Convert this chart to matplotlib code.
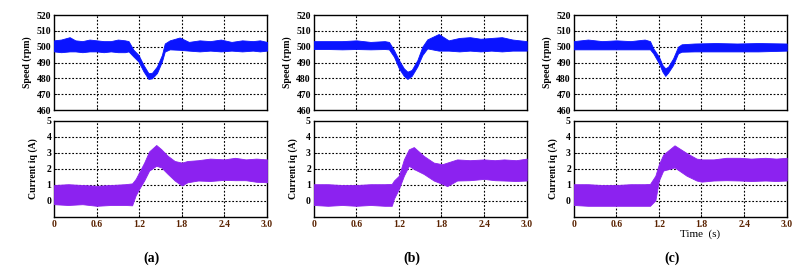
import matplotlib
matplotlib.use("Agg")
import matplotlib.pyplot as plt

# ---------------- data ----------------
panel_labels = ["(a)", "(b)", "(c)"]
x_ticks = [0, 0.6, 1.2, 1.8, 2.4, 3.0]
x_ticklabels = ["0", "0.6", "1.2", "1.8", "2.4", "3.0"]
speed_ticks = [460, 470, 480, 490, 500, 510, 520]
current_ticks = [0, 1, 2, 3, 4, 5]

# speed envelopes (rpm)
spd_t_a = [0, 0.1, 0.22, 0.3, 0.4, 0.5, 0.6, 0.7, 0.8, 0.9, 1.0, 1.05, 1.12, 1.19, 1.26, 1.33, 1.38, 1.45, 1.52, 1.56, 1.63, 1.77, 1.9, 2.05, 2.2, 2.35, 2.5, 2.65, 2.8, 2.9, 3.0]
spd_hi_a = [504, 504.5, 506, 504, 503.5, 504.5, 504, 503.5, 503.5, 504.5, 504, 503.5, 498, 494.8, 488.5, 483.3, 483.5, 487.5, 494.8, 502, 504, 505.8, 503, 504, 503.5, 504.5, 503, 504, 503.5, 504, 503]
spd_lo_a = [497, 496.5, 497, 497, 496.5, 497, 497, 496.5, 497, 496.5, 496.5, 497, 493.7, 490.6, 484.4, 479.6, 480, 483.3, 490.6, 496.9, 498.3, 498, 497.5, 497, 497.5, 497, 497.5, 497, 497.5, 497, 497.5]

spd_t_b = [0, 0.2, 0.4, 0.6, 0.8, 1.0, 1.06, 1.13, 1.2, 1.27, 1.32, 1.38, 1.46, 1.53, 1.6, 1.76, 1.9, 2.05, 2.2, 2.35, 2.5, 2.65, 2.8, 3.0]
spd_hi_b = [503.5, 503.5, 503.5, 504, 503, 503.5, 503, 497.9, 491.6, 486.3, 484.2, 485.3, 491.5, 500, 504.6, 508, 504, 505.5, 506, 505, 505.5, 506, 504.5, 503.5]
spd_lo_b = [498.5, 498.5, 498.3, 498.5, 498.3, 498.5, 498.3, 493.7, 486.3, 481.5, 479.6, 481.5, 487.5, 494.7, 498.9, 497.5, 497.5, 497, 497.5, 497, 497.5, 497, 497.5, 497.5]

spd_t_c = [0, 0.2, 0.4, 0.6, 0.8, 1.0, 1.075, 1.12, 1.2, 1.25, 1.29, 1.33, 1.4, 1.47, 1.52, 1.7, 2.0, 2.3, 2.6, 3.0]
spd_hi_c = [503.5, 504.5, 503.5, 504, 503.5, 504.5, 503.5, 499, 493.7, 488.4, 486.3, 487.4, 492.6, 500, 501.5, 502, 502.3, 502, 502.3, 502]
spd_lo_c = [498.3, 498.3, 498.3, 498.3, 498.3, 498.3, 498.3, 495.8, 489.5, 484.2, 481.5, 483.6, 488.4, 495.8, 496.8, 497, 497, 497, 497, 497.5]

# current iq envelopes (A)
cur_t_a = [0, 0.2, 0.4, 0.6, 0.8, 1.0, 1.10, 1.15, 1.20, 1.27, 1.34, 1.44, 1.51, 1.60, 1.70, 1.80, 1.88, 2.03, 2.2, 2.4, 2.55, 2.7, 2.85, 3.0]
cur_hi_a = [1.0, 1.05, 1.0, 0.95, 1.0, 1.05, 1.1, 1.38, 1.8, 2.4, 3.1, 3.5, 3.24, 2.83, 2.5, 2.4, 2.5, 2.55, 2.65, 2.6, 2.7, 2.6, 2.65, 2.6]
cur_lo_a = [-0.2, -0.25, -0.2, -0.3, -0.25, -0.25, -0.27, 0.35, 0.76, 1.28, 1.9, 2.2, 2.1, 1.7, 1.28, 0.97, 1.17, 1.28, 1.25, 1.32, 1.3, 1.3, 1.2, 1.17]

cur_t_b = [0, 0.2, 0.4, 0.6, 0.8, 1.0, 1.10, 1.13, 1.20, 1.27, 1.34, 1.41, 1.55, 1.69, 1.81, 1.88, 2.02, 2.2, 2.4, 2.55, 2.68, 2.85, 3.0]
cur_hi_b = [1.05, 1.05, 1.0, 1.0, 1.05, 1.05, 1.07, 1.28, 1.58, 2.6, 3.23, 3.37, 2.82, 2.4, 2.3, 2.4, 2.6, 2.55, 2.6, 2.55, 2.6, 2.55, 2.65]
cur_lo_b = [-0.25, -0.3, -0.25, -0.3, -0.25, -0.3, -0.3, 0.14, 0.76, 1.58, 2.2, 2.0, 1.69, 1.28, 1.07, 0.93, 1.28, 1.3, 1.38, 1.3, 1.28, 1.25, 1.28]

cur_t_c = [0, 0.2, 0.4, 0.6, 0.8, 1.0, 1.075, 1.15, 1.20, 1.26, 1.42, 1.59, 1.73, 1.80, 1.97, 2.15, 2.34, 2.5, 2.7, 2.85, 3.0]
cur_hi_c = [1.05, 1.05, 1.0, 1.0, 1.05, 1.05, 1.07, 1.58, 2.3, 2.9, 3.48, 3.0, 2.65, 2.6, 2.6, 2.7, 2.7, 2.65, 2.7, 2.65, 2.7]
cur_lo_c = [-0.25, -0.3, -0.3, -0.3, -0.3, -0.3, -0.3, 0.04, 1.28, 1.9, 2.1, 1.58, 1.28, 1.21, 1.28, 1.3, 1.28, 1.25, 1.28, 1.25, 1.28]

speed_sets = [(spd_t_a, spd_hi_a, spd_lo_a), (spd_t_b, spd_hi_b, spd_lo_b), (spd_t_c, spd_hi_c, spd_lo_c)]
current_sets = [(cur_t_a, cur_hi_a, cur_lo_a), (cur_t_b, cur_hi_b, cur_lo_b), (cur_t_c, cur_hi_c, cur_lo_c)]

# ---------------- style ----------------
SERIF = ["Liberation Serif", "DejaVu Serif"]
speed_color = "#0a14ff"
current_color = "#8c22f0"
xtick_color = "#5a2200"
grid_kw = dict(color="black", linestyle=(0, (1.6, 1.6)), linewidth=0.8)

W, H = 812, 269
fig = plt.figure(figsize=(W / 100, H / 100), dpi=100)

lefts = [54, 313.7, 573.7]
ax_w = 213
spd_top, spd_bot = 15, 110
cur_top, cur_bot = 121, 217


def fx(px):
    return px / W


def fy(py):
    return 1 - py / H


def style_axes(ax):
    for s in ax.spines.values():
        s.set_linewidth(1.0)
        s.set_color("black")
    ax.tick_params(direction="in", length=2, width=0.6, pad=2)
    ax.grid(False)
    for xv in x_ticks[1:-1]:
        ax.axvline(xv, **grid_kw, zorder=1)


for i in range(3):
    l = lefts[i]
    ax_s = fig.add_axes([fx(l), fy(spd_bot), fx(ax_w), (spd_bot - spd_top) / H])
    ax_c = fig.add_axes([fx(l), fy(cur_bot), fx(ax_w), (cur_bot - cur_top) / H])

    t, hi, lo = speed_sets[i]
    ax_s.fill_between(t, lo, hi, color=speed_color, linewidth=0.6, edgecolor=speed_color, zorder=3)
    ax_s.set_xlim(0, 3.0)
    ax_s.set_ylim(460, 520)
    ax_s.set_xticks(x_ticks)
    ax_s.set_xticklabels([])
    ax_s.set_yticks(speed_ticks)
    ax_s.set_yticklabels([str(v) for v in speed_ticks], fontfamily=SERIF, fontweight="bold", fontsize=7)
    for yv in speed_ticks[1:-1]:
        ax_s.axhline(yv, **grid_kw, zorder=1)
    style_axes(ax_s)
    ax_s.set_ylabel("Speed (rpm)", fontfamily=SERIF, fontweight="bold", fontsize=7, labelpad=3)

    t, hi, lo = current_sets[i]
    ax_c.fill_between(t, lo, hi, color=current_color, linewidth=0.6, edgecolor=current_color, zorder=3)
    ax_c.set_xlim(0, 3.0)
    ax_c.set_ylim(-1, 5)
    ax_c.set_xticks(x_ticks)
    ax_c.set_xticklabels(x_ticklabels, fontfamily=SERIF, fontweight="bold", fontsize=7, color=xtick_color)
    ax_c.set_yticks(current_ticks)
    ax_c.set_yticklabels([str(v) for v in current_ticks], fontfamily=SERIF, fontweight="bold", fontsize=7)
    for yv in current_ticks[:-1]:
        ax_c.axhline(yv, **grid_kw, zorder=1)
    style_axes(ax_c)
    ax_c.tick_params(axis="x", pad=2.5)
    ax_c.set_ylabel("Current iq (A)", fontfamily=SERIF, fontweight="bold", fontsize=7, labelpad=6)

panel_x = [151.7, 411.7, 672.3]
for i, lab in enumerate(panel_labels):
    fig.text(fx(panel_x[i]), fy(258), lab, ha="center", va="center",
             fontfamily=SERIF, fontweight="bold", fontsize=10)

fig.text(fx(700), fy(234), "Time  (s)", ha="center", va="center",
         fontfamily=SERIF, fontsize=8)

fig.savefig("out.png", dpi=100)
